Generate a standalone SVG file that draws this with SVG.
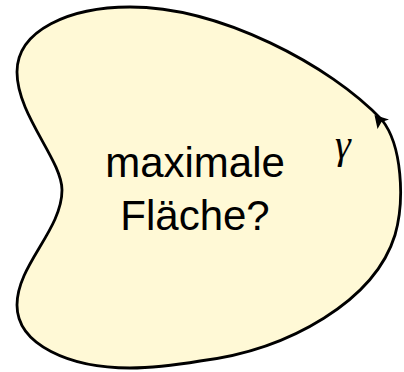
<svg xmlns="http://www.w3.org/2000/svg" width="404" height="372" viewBox="0 0 404 372">
<style>
.lbl{font-family:"Liberation Sans",Arial,sans-serif;font-size:42px;fill:#000;text-anchor:middle}
.g{font-family:"Liberation Serif","Times New Roman",serif;font-style:italic;font-size:40px;fill:#000}
</style>
<rect width="404" height="372" fill="#fff"/>
<g id="region">
<path d="M 62,190 C 62,160 17,115 17,72 C 17,30 70,7 130,7 C 220,7 330,65 382,120 C 402,145 405,200 395,235 C 375,300 290,350 200,361 C 170,366 150,368 130,368 C 70,368 17,345 17,305 C 17,265 62,230 62,190 Z" fill="#fff9d6" stroke="#000" stroke-width="2.8"/>
<path d="M 374.5,115 L 389,119.5 L 381.5,122 L 377.5,129 Z" fill="#000"/>
<text class="lbl" x="195" y="177">maximale</text>
<text class="lbl" x="195" y="230">Fläche?</text>
<text class="g" x="335" y="158">γ</text>
</g>
</svg>
